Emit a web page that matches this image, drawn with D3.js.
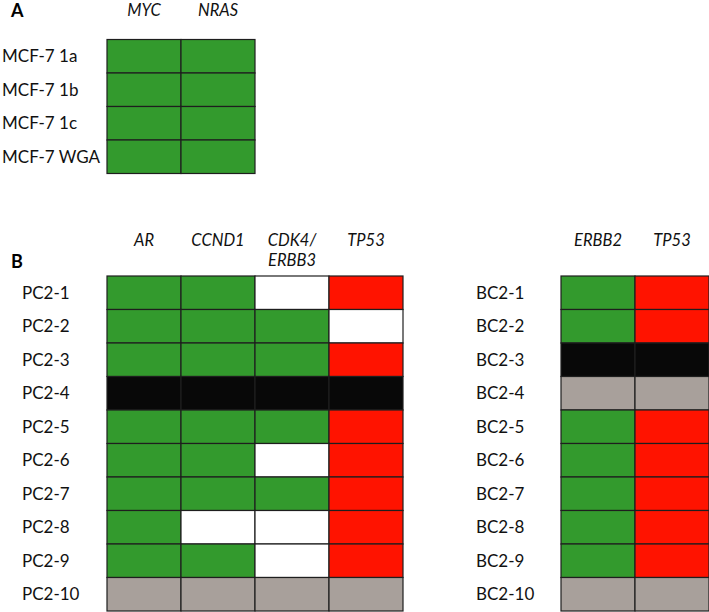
<!DOCTYPE html>
<html>
<head>
<meta charset="utf-8">
<script src="https://cdn.jsdelivr.net/npm/d3@7"></script>
<style>
  body { margin: 0; background: #fff; }
  svg { display: block; font-family: Lato, "Open Sans", sans-serif; }
</style>
</head>
<body>
<div class="canvas"></div>
<script>
// status codes: g = green, r = red, w = white, k = black, n = grey
const colors = { g: '#339a2d', r: '#ff1300', w: '#ffffff', k: '#080808', n: '#a8a09b' };

// Panel A
const aGenes = ['MYC', 'NRAS'];
const aSamples = ['MCF-7 1a', 'MCF-7 1b', 'MCF-7 1c', 'MCF-7 WGA'];
const aValues = ['gg', 'gg', 'gg', 'gg'];

// Panel B left
const pcGenes = ['AR', 'CCND1', 'CDK4/|ERBB3', 'TP53'];
const pcSamples = ['PC2-1', 'PC2-2', 'PC2-3', 'PC2-4', 'PC2-5', 'PC2-6', 'PC2-7', 'PC2-8', 'PC2-9', 'PC2-10'];
const pcValues = ['ggwr', 'gggw', 'gggr', 'kkkk', 'gggr', 'ggwr', 'gggr', 'gwwr', 'ggwr', 'nnnn'];

// Panel B right
const bcGenes = ['ERBB2', 'TP53'];
const bcSamples = ['BC2-1', 'BC2-2', 'BC2-3', 'BC2-4', 'BC2-5', 'BC2-6', 'BC2-7', 'BC2-8', 'BC2-9', 'BC2-10'];
const bcValues = ['gr', 'gr', 'kk', 'nn', 'gr', 'gr', 'gr', 'gr', 'gr', 'nn'];

const svgWidth = 709, svgHeight = 612;
const rowH = 33.5, colW = 74;

const svg = d3.select('.canvas').append('svg')
  .attr('width', svgWidth)
  .attr('height', svgHeight);

// draw one grid of cells with row labels and column headers
function drawGrid(genes, samples, values, left, top, labelX, headerY) {
  const x = d3.scaleBand().domain(genes).range([left, left + colW * genes.length]).padding(0);
  const y = d3.scaleBand().domain(samples).range([top, top + rowH * samples.length]).padding(0);

  const cells = [];
  samples.forEach((s, i) => {
    genes.forEach((g, j) => cells.push({ sample: s, gene: g, v: values[i][j] }));
  });

  svg.append('g').selectAll('rect')
    .data(cells)
    .enter()
    .append('rect')
    .attr('x', d => x(d.gene))
    .attr('y', d => y(d.sample))
    .attr('width', x.bandwidth())
    .attr('height', y.bandwidth())
    .attr('fill', d => colors[d.v])
    .attr('stroke', '#1e1e1e')
    .attr('stroke-width', 1.2);

  // row labels
  svg.append('g').selectAll('text')
    .data(samples)
    .enter()
    .append('text')
    .attr('x', labelX)
    .attr('y', d => y(d) + y.bandwidth() / 2)
    .attr('dy', '0.36em')
    .attr('font-size', 17)
    .attr('fill', '#111')
    .text(d => d);

  // column headers, italic, may wrap on '|'
  const heads = svg.append('g').selectAll('text')
    .data(genes)
    .enter()
    .append('text')
    .attr('x', d => x(d) + x.bandwidth() / 2)
    .attr('y', headerY)
    .attr('text-anchor', 'middle')
    .attr('font-size', 16.5)
    .attr('font-style', 'italic')
    .attr('fill', '#111');
  heads.each(function(d) {
    d.split('|').forEach((part, k) => {
      d3.select(this).append('tspan')
        .attr('x', x(d) + x.bandwidth() / 2)
        .attr('dy', k === 0 ? 0 : 20)
        .text(part);
    });
  });
}

drawGrid(aGenes, aSamples, aValues, 107, 39.5, 2, 16);
drawGrid(pcGenes, pcSamples, pcValues, 107, 276, 22, 246);
drawGrid(bcGenes, bcSamples, bcValues, 561, 276, 476, 246);

// panel letters
svg.append('text').attr('x', 11).attr('y', 17).attr('font-size', 18).attr('font-weight', 'bold').text('A');
svg.append('text').attr('x', 11).attr('y', 268).attr('font-size', 18).attr('font-weight', 'bold').text('B');
</script>
</body>
</html>
